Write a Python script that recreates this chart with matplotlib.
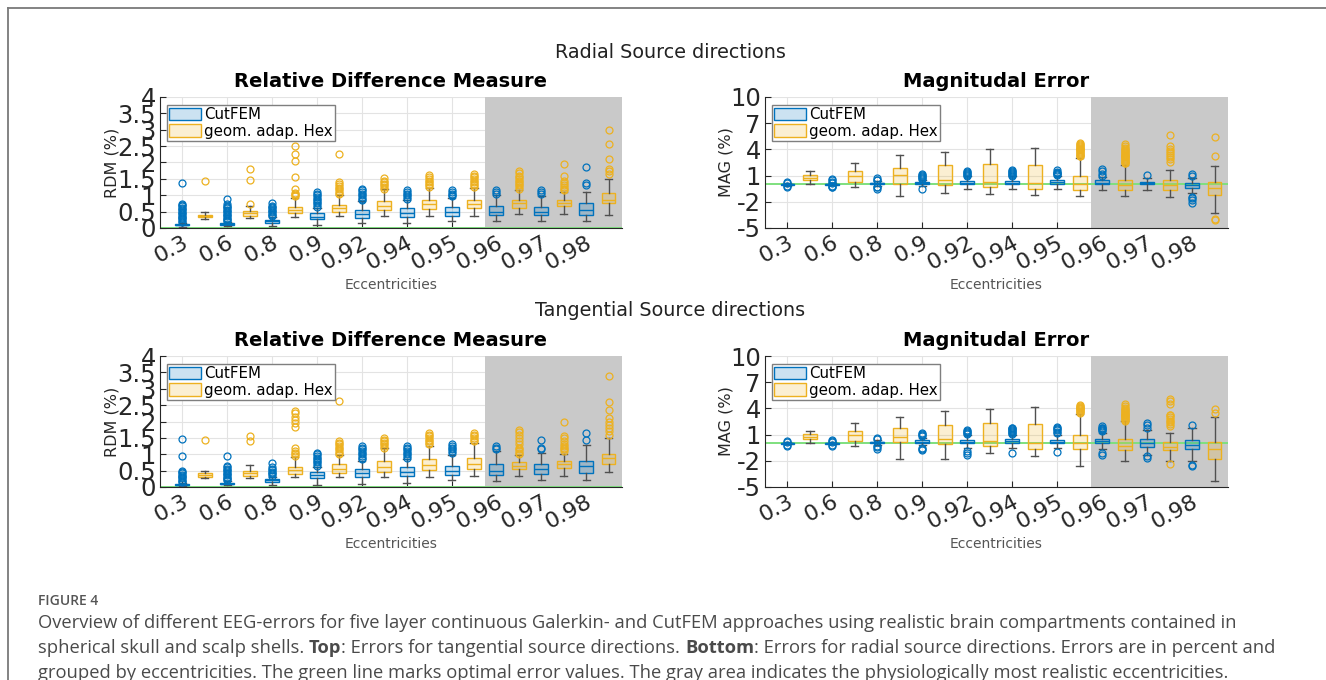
import numpy as np
import matplotlib
matplotlib.use('Agg')
import matplotlib.pyplot as plt
from matplotlib.colors import to_rgba
from matplotlib.patches import Patch
from matplotlib.lines import Line2D

W, H = 1326, 680

# eccentricities on the x axis
ecc = ['0.3', '0.6', '0.8', '0.9', '0.92', '0.94', '0.95', '0.96', '0.97', '0.98']

# box stats per eccentricity: (whisker low, q1, median, q3, whisker high)
# --- radial, RDM
rad_rdm_cut = [(0.04, 0.08, 0.10, 0.12, 0.16), (0.05, 0.09, 0.11, 0.14, 0.18),
               (0.07, 0.15, 0.20, 0.25, 0.33), (0.10, 0.27, 0.35, 0.45, 0.62),
               (0.15, 0.32, 0.43, 0.55, 0.82), (0.15, 0.35, 0.47, 0.60, 0.87),
               (0.20, 0.38, 0.50, 0.63, 0.93), (0.20, 0.40, 0.50, 0.66, 1.00),
               (0.22, 0.39, 0.50, 0.63, 0.98), (0.22, 0.40, 0.55, 0.77, 1.10)]
rad_rdm_cut_out = [[0.18, 0.22, 0.26, 0.3, 0.34, 0.38, 0.42, 0.46, 0.5, 0.54, 0.58, 0.62, 0.66, 0.7, 0.74, 1.38],
                   [0.2, 0.24, 0.28, 0.32, 0.36, 0.4, 0.44, 0.48, 0.52, 0.56, 0.6, 0.64, 0.68, 0.72, 0.9],
                   [0.36, 0.4, 0.44, 0.48, 0.52, 0.56, 0.6, 0.64, 0.68, 0.75],
                   [0.65, 0.7, 0.75, 0.8, 0.85, 0.9, 0.95, 1.0, 1.05, 1.1],
                   [0.85, 0.9, 0.95, 1.0, 1.05, 1.1, 1.15, 1.2],
                   [0.9, 0.95, 1.0, 1.05, 1.1, 1.15],
                   [0.97, 1.01, 1.05, 1.1, 1.15],
                   [1.05, 1.1, 1.15],
                   [1.05, 1.1, 1.15],
                   [1.3, 1.38, 1.85]]
rad_rdm_hex = [(0.28, 0.34, 0.37, 0.40, 0.49), (0.30, 0.38, 0.45, 0.52, 0.67),
               (0.34, 0.45, 0.54, 0.64, 0.93), (0.36, 0.49, 0.60, 0.71, 1.00),
               (0.37, 0.54, 0.68, 0.81, 1.18), (0.38, 0.57, 0.72, 0.84, 1.22),
               (0.38, 0.61, 0.73, 0.87, 1.22), (0.43, 0.61, 0.75, 0.85, 1.15),
               (0.42, 0.67, 0.76, 0.84, 1.10), (0.40, 0.77, 0.87, 1.07, 1.50)]
rad_rdm_hex_out = [[1.45],
                   [0.74, 1.48, 1.8],
                   [0.97, 1.0, 1.03, 1.08, 1.2, 1.55, 2.05, 2.25, 2.5],
                   [1.03, 1.08, 1.13, 1.18, 1.23, 1.28, 1.33, 1.4, 2.25],
                   [1.2, 1.25, 1.3, 1.35, 1.4, 1.45, 1.52],
                   [1.25, 1.3, 1.35, 1.4, 1.45, 1.5, 1.55, 1.62],
                   [1.25, 1.3, 1.35, 1.4, 1.45, 1.5, 1.55, 1.6, 1.65],
                   [1.2, 1.25, 1.3, 1.35, 1.4, 1.45, 1.5, 1.55, 1.6, 1.68, 1.75],
                   [1.15, 1.2, 1.25, 1.3, 1.38, 1.45, 1.6, 1.95],
                   [1.65, 1.75, 1.8, 2.1, 2.55, 3.0]]

# --- radial, MAG
rad_mag_cut = [(-0.15, -0.05, 0.0, 0.05, 0.15), (-0.10, -0.03, 0.0, 0.03, 0.10),
               (-0.15, 0.0, 0.10, 0.20, 0.35), (-0.20, 0.0, 0.15, 0.28, 0.55),
               (-0.50, 0.05, 0.20, 0.40, 0.90), (-0.50, 0.05, 0.20, 0.40, 0.90),
               (-0.50, 0.08, 0.25, 0.53, 0.95), (-0.60, 0.05, 0.20, 0.45, 0.85),
               (-0.60, 0.0, 0.15, 0.30, 0.70), (-1.00, -0.38, -0.10, 0.15, 0.70)]
rad_mag_cut_out = [[-0.3, -0.2, 0.2, 0.3],
                   [-0.35, -0.25, -0.2, 0.2, 0.3, 0.45, 0.6],
                   [-0.5, -0.35, -0.25, 0.45, 0.55, 0.7],
                   [-0.5, 0.65, 0.75, 0.85, 0.95, 1.05, 1.15],
                   [1.0, 1.1, 1.2, 1.3, 1.4, 1.55],
                   [1.0, 1.1, 1.2, 1.3, 1.4, 1.5, 1.6],
                   [1.05, 1.15, 1.25, 1.35, 1.45, 1.6],
                   [1.0, 1.2, 1.5, 1.8],
                   [1.1],
                   [1.0, 1.2, -1.4, -1.6, -1.8, -2.1]]
rad_mag_hex = [(0.0, 0.46, 0.75, 1.10, 1.56), (-0.31, 0.27, 0.95, 1.49, 2.44),
               (-1.37, 0.08, 1.03, 1.90, 3.32), (-0.95, -0.04, 0.53, 2.18, 3.70),
               (-1.15, -0.27, 0.27, 2.33, 4.08), (-1.26, -0.50, 0.19, 2.25, 4.20),
               (-1.30, -0.65, 0.0, 0.95, 3.00), (-1.30, -0.65, -0.05, 0.50, 2.20),
               (-1.45, -0.70, -0.05, 0.50, 1.68), (-3.24, -1.26, -0.42, 0.27, 2.14)]
rad_mag_hex_out = [[], [], [], [], [], [],
                   [3.2, 3.3, 3.4, 3.5, 3.6, 3.7, 3.8, 3.9, 4.0, 4.1, 4.2, 4.3, 4.4, 4.5, 4.6, 4.7],
                   [2.4, 2.5, 2.6, 2.7, 2.8, 2.9, 3.0, 3.1, 3.2, 3.3, 3.4, 3.5, 3.6, 3.7, 3.8, 3.9, 4.0, 4.2, 4.4, 4.6],
                   [2.6, 2.9, 3.1, 3.4, 3.6, 3.8, 4.1, 4.4, 5.6],
                   [3.24, 5.42, -4.0, -4.12]]

# --- tangential, RDM
tan_rdm_cut = [(0.03, 0.05, 0.07, 0.09, 0.12), (0.05, 0.08, 0.10, 0.13, 0.17),
               (0.07, 0.15, 0.20, 0.25, 0.32), (0.07, 0.28, 0.37, 0.45, 0.62),
               (0.10, 0.30, 0.43, 0.55, 0.80), (0.12, 0.34, 0.45, 0.61, 0.87),
               (0.20, 0.36, 0.48, 0.65, 0.98), (0.18, 0.37, 0.50, 0.70, 1.10),
               (0.22, 0.39, 0.55, 0.70, 1.05), (0.20, 0.44, 0.63, 0.80, 1.29)]
tan_rdm_cut_out = [[0.14, 0.18, 0.22, 0.26, 0.3, 0.34, 0.38, 0.42, 0.46, 0.5, 0.95, 1.46],
                   [0.2, 0.24, 0.28, 0.32, 0.36, 0.4, 0.44, 0.48, 0.52, 0.56, 0.6, 0.64, 0.95],
                   [0.35, 0.39, 0.43, 0.47, 0.51, 0.55, 0.6, 0.72],
                   [0.65, 0.7, 0.75, 0.8, 0.85, 0.9, 0.95, 1.0, 1.05],
                   [0.85, 0.9, 0.95, 1.0, 1.05, 1.1, 1.15, 1.2, 1.25],
                   [0.9, 0.95, 1.0, 1.05, 1.1, 1.15, 1.2, 1.25],
                   [1.05, 1.1, 1.15, 1.2, 1.25, 1.3],
                   [1.15, 1.2, 1.25],
                   [1.15, 1.2, 1.43],
                   [1.45, 1.64]]
tan_rdm_hex = [(0.27, 0.32, 0.37, 0.42, 0.48), (0.27, 0.34, 0.43, 0.49, 0.68),
               (0.31, 0.41, 0.52, 0.61, 0.92), (0.32, 0.44, 0.55, 0.70, 0.98),
               (0.32, 0.47, 0.62, 0.80, 1.18), (0.32, 0.51, 0.68, 0.85, 1.25),
               (0.35, 0.54, 0.70, 0.90, 1.35), (0.35, 0.54, 0.65, 0.75, 0.98),
               (0.35, 0.59, 0.70, 0.80, 1.02), (0.47, 0.70, 0.88, 1.02, 1.51)]
tan_rdm_hex_out = [[1.43],
                   [1.39, 1.57],
                   [0.95, 1.0, 1.05, 1.1, 1.2, 1.84, 1.95, 2.05, 2.15, 2.25, 2.33],
                   [1.0, 1.05, 1.1, 1.15, 1.2, 1.25, 1.3, 1.35, 1.4, 2.62],
                   [1.2, 1.25, 1.3, 1.35, 1.4, 1.45, 1.5],
                   [1.3, 1.35, 1.4, 1.45, 1.5, 1.55, 1.6, 1.65],
                   [1.4, 1.45, 1.5, 1.55, 1.6, 1.65],
                   [1.0, 1.05, 1.1, 1.15, 1.2, 1.3, 1.4, 1.5, 1.6, 1.68, 1.75],
                   [1.1, 1.15, 1.2, 1.25, 1.3, 1.4, 1.5, 1.55, 1.97],
                   [1.6, 1.7, 1.8, 1.9, 2.0, 2.1, 2.35, 2.6, 3.38]]

# --- tangential, MAG
tan_mag_cut = [(-0.10, -0.05, 0.0, 0.05, 0.10), (-0.10, -0.03, 0.0, 0.03, 0.10),
               (-0.15, 0.0, 0.10, 0.20, 0.35), (-0.20, 0.05, 0.20, 0.35, 0.60),
               (-0.50, 0.05, 0.20, 0.40, 0.90), (-0.50, 0.05, 0.25, 0.45, 1.00),
               (-0.50, 0.0, 0.20, 0.40, 0.90), (-0.70, 0.0, 0.25, 0.45, 1.20),
               (-1.30, -0.42, 0.05, 0.53, 1.50), (-2.00, -0.65, -0.20, 0.34, 1.80)]
tan_mag_cut_out = [[-0.3, -0.2, 0.2, 0.3],
                   [-0.3, -0.2, 0.2, 0.3, 0.4],
                   [-0.6, -0.45, -0.3, 0.45, 0.6],
                   [-0.8, -0.6, -0.5, 0.8, 0.95, 1.1, 1.2],
                   [-1.3, -1.1, -0.9, 1.1, 1.2, 1.3, 1.4, 1.5],
                   [-1.1, 1.1, 1.2, 1.3, 1.4, 1.5, 1.6, 1.7, 1.8],
                   [-1.0, 1.2, 1.35, 1.5, 1.65, 1.8, 1.9],
                   [-1.3, -1.1, 1.4, 1.5, 1.6, 1.7, 1.8, 2.0],
                   [-1.7, -1.5, 1.8, 2.1, 2.3],
                   [2.06, -2.5, -2.63]]
tan_mag_hex = [(0.0, 0.46, 0.75, 1.03, 1.40), (-0.34, 0.27, 0.92, 1.41, 2.33),
               (-1.79, 0.11, 0.73, 1.79, 3.05), (-1.76, -0.11, 0.46, 2.14, 3.66),
               (-1.10, -0.34, 0.25, 2.37, 3.89), (-1.45, -0.61, 0.04, 2.18, 4.16),
               (-2.63, -0.69, 0.0, 0.92, 3.32), (-2.06, -0.80, -0.27, 0.53, 2.52),
               (-2.02, -0.80, -0.42, 0.10, 1.22), (-4.31, -1.76, -0.65, 0.15, 3.00)]
tan_mag_hex_out = [[], [], [], [], [], [],
                   [3.5, 3.6, 3.7, 3.8, 3.9, 4.0, 4.1, 4.2, 4.3, 4.4],
                   [2.6, 2.7, 2.8, 2.9, 3.0, 3.1, 3.2, 3.3, 3.4, 3.5, 3.6, 3.7, 3.8, 3.9, 4.1, 4.3, 4.5],
                   [-2.4, 2.0, 2.2, 2.4, 2.6, 2.8, 3.0, 3.2, 3.3, 4.5, 4.8, 5.1],
                   [3.5, 3.9]]

blue = '#0072BD'
orange = '#EDB120'
tick_col = '#262626'

fig = plt.figure(figsize=(W / 100, H / 100), dpi=100)


def px_ax(x0, y0, x1, y1):
    # axes from pixel box (top-left origin)
    return fig.add_axes([x0 / W, 1 - y1 / H, (x1 - x0) / W, (y1 - y0) / H])


def draw_boxes(ax, rows, outs, pos, c):
    stats = [dict(whislo=r[0], q1=r[1], med=r[2], q3=r[3], whishi=r[4], fliers=o)
             for r, o in zip(rows, outs)]
    ax.bxp(stats, positions=pos, widths=0.62, capwidths=0.32, patch_artist=True,
           boxprops=dict(facecolor=to_rgba(c, 0.2), edgecolor=c, lw=1.0),
           medianprops=dict(color=c, lw=1.0),
           whiskerprops=dict(color='#505050', lw=1.0),
           capprops=dict(color='#505050', lw=1.0),
           flierprops=dict(marker='o', mfc='none', mec=c, ms=5, mew=0.9),
           manage_ticks=False, zorder=3)


def panel(ax, cut, cut_out, hexs, hex_out, ylim, yticks, ylabel, title, ylab_x):
    pos_cut = np.arange(len(ecc)) * 2 + 1
    pos_hex = pos_cut + 1
    ax.set_xlim(0, 20.6)
    ax.set_ylim(*ylim)
    ax.set_axisbelow(True)
    ax.grid(True, color='#e3e3e3', lw=0.8)
    ax.axvspan(14.5, 20.6, color='#c9c9c9', zorder=0.8, lw=0)
    ax.axhline(0, color='#7ee07e', lw=1.4, zorder=1.5)
    draw_boxes(ax, cut, cut_out, pos_cut, blue)
    draw_boxes(ax, hexs, hex_out, pos_hex, orange)
    ax.set_xticks(pos_cut)
    ax.set_xticklabels(ecc, rotation=28, ha='right', va='top', rotation_mode='anchor',
                       fontsize=16, color=tick_col)
    shift = matplotlib.transforms.ScaledTranslation(21 / 100, -6 / 100, fig.dpi_scale_trans)
    for lab in ax.get_xticklabels():
        lab.set_transform(lab.get_transform() + shift)
    ax.set_yticks(yticks)
    ax.set_yticklabels([('%g' % v) for v in yticks], fontsize=17.5, color=tick_col)
    ax.tick_params(direction='in', length=4, width=0.8, color='#262626', pad=3)
    for s in ['top', 'right']:
        ax.spines[s].set_visible(False)
    for s in ['left', 'bottom']:
        ax.spines[s].set_color('#262626')
        ax.spines[s].set_linewidth(0.8)
    ax.set_ylabel(ylabel, fontsize=11.5, color=tick_col)
    ax.yaxis.set_label_coords(ylab_x, 0.5)
    ax.set_xlabel('Eccentricities', fontsize=10, color='#555555')
    ax.xaxis.set_label_coords(0.5, -0.385)
    ax.set_title(title, fontsize=14, fontweight='bold', pad=7)
    handles = [Patch(facecolor=to_rgba(blue, 0.2), edgecolor=blue, lw=1.0),
               Patch(facecolor=to_rgba(orange, 0.2), edgecolor=orange, lw=1.0)]
    leg = ax.legend(handles, ['CutFEM', 'geom. adap. Hex'], loc='upper left',
                    bbox_to_anchor=(0.015, 0.94), fontsize=10.8, frameon=True, fancybox=False,
                    edgecolor='#7f7f7f', framealpha=1, borderpad=0.15, labelspacing=0.1,
                    handlelength=2.1, handleheight=0.9, handletextpad=0.2, borderaxespad=0)
    leg.get_frame().set_linewidth(1.0)
    leg.set_zorder(5)


rdm_ticks = [0, 0.5, 1, 1.5, 2, 2.5, 3, 3.5, 4]
mag_ticks = [-5, -2, 1, 4, 7, 10]

ax1 = px_ax(160, 97, 622, 228)
panel(ax1, rad_rdm_cut, rad_rdm_cut_out, rad_rdm_hex, rad_rdm_hex_out, (0, 4), rdm_ticks,
      'RDM (%)', 'Relative Difference Measure', -0.087)
ax2 = px_ax(765, 97, 1228, 228)
panel(ax2, rad_mag_cut, rad_mag_cut_out, rad_mag_hex, rad_mag_hex_out, (-5, 10), mag_ticks,
      'MAG (%)', 'Magnitudal Error', -0.069)
ax3 = px_ax(160, 356, 622, 487)
panel(ax3, tan_rdm_cut, tan_rdm_cut_out, tan_rdm_hex, tan_rdm_hex_out, (0, 4), rdm_ticks,
      'RDM (%)', 'Relative Difference Measure', -0.087)
ax4 = px_ax(765, 356, 1228, 487)
panel(ax4, tan_mag_cut, tan_mag_cut_out, tan_mag_hex, tan_mag_hex_out, (-5, 10), mag_ticks,
      'MAG (%)', 'Magnitudal Error', -0.069)

fig.text(670 / W, 1 - 52 / H, 'Radial Source directions', ha='center', va='center',
         fontsize=13.8, color='#222222')
fig.text(670 / W, 1 - 311 / H, 'Tangential Source directions', ha='center', va='center',
         fontsize=13.8, color='#222222')

# frame around the figure (only top and left edges are visible)
fig.add_artist(Line2D([8 / W, 1], [1 - 8 / H, 1 - 8 / H], color='#7a7a7a', lw=1.3))
fig.add_artist(Line2D([8 / W, 8 / W], [0, 1 - 8 / H], color='#7a7a7a', lw=1.3))

# caption
cap_font = ['Open Sans', 'DejaVu Sans']
cap_col = '#4a4a4a'
fig.text(38 / W, 1 - 601 / H, 'FIGURE 4', ha='left', va='center', fontsize=10,
         fontweight='semibold', color='#555555', family=cap_font)
cap_size = 13.2
fig.text(38 / W, 1 - 623 / H,
         'Overview of different EEG-errors for five layer continuous Galerkin- and CutFEM approaches '
         'using realistic brain compartments contained in',
         ha='left', va='center', fontsize=cap_size, color=cap_col, family=cap_font)
fig.text(38 / W, 1 - 673 / H,
         'grouped by eccentricities. The green line marks optimal error values. The gray area '
         'indicates the physiologically most realistic eccentricities.',
         ha='left', va='center', fontsize=cap_size, color=cap_col, family=cap_font)

segs = [('spherical skull and scalp shells.', 'normal', True), ('Top', 'bold', False),
        (': Errors for tangential source directions.', 'normal', True), ('Bottom', 'bold', False),
        (': Errors for radial source directions. Errors are in percent and', 'normal', False)]
fig.canvas.draw()
r = fig.canvas.get_renderer()
t1 = fig.text(0, 0, 'x x', fontsize=cap_size, family=cap_font)
t2 = fig.text(0, 0, 'xx', fontsize=cap_size, family=cap_font)
sp = t1.get_window_extent(r).width - t2.get_window_extent(r).width
t1.remove()
t2.remove()
x = 38.0
for txt, wgt, space_after in segs:
    t = fig.text(x / W, 1 - 648 / H, txt, ha='left', va='center', fontsize=cap_size,
                 fontweight=wgt, color=cap_col, family=cap_font)
    x += t.get_window_extent(r).width + (sp if space_after else 0)

fig.savefig('out.png', dpi=100)
